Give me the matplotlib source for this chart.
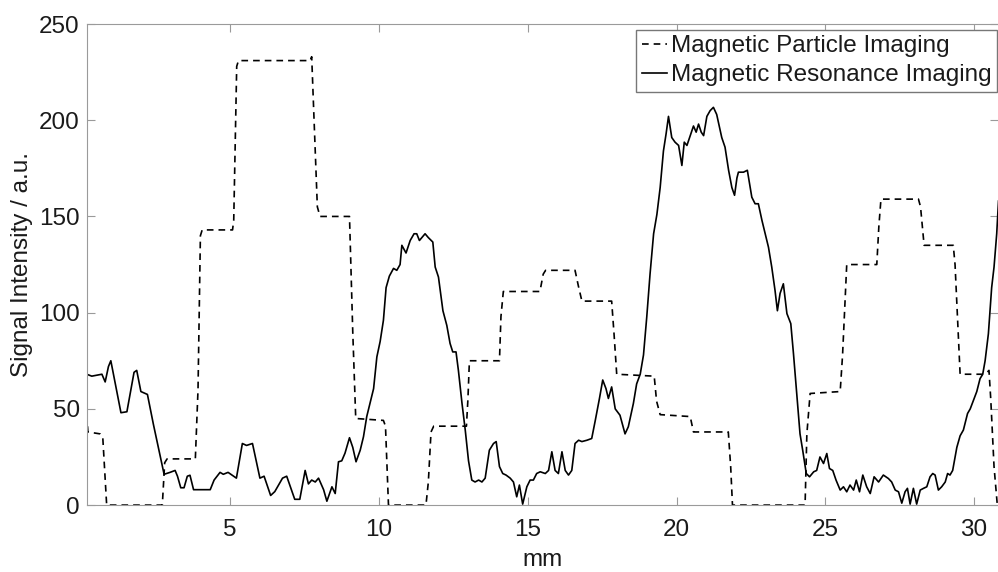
import matplotlib
matplotlib.use("Agg")
import matplotlib.pyplot as plt

# Magnetic Resonance Imaging profile (solid)
mri_x = [0.18, 0.35, 0.69, 0.80, 0.91, 0.99, 1.14, 1.33, 1.53, 1.77, 1.86, 2.00, 2.22, 2.42,
         2.78, 2.98, 3.15, 3.23, 3.34, 3.45, 3.56, 3.65, 3.77, 4.33, 4.46, 4.66, 4.77, 4.93,
         5.21, 5.41, 5.55, 5.75, 6.00, 6.14, 6.36, 6.50, 6.76, 6.90, 7.17, 7.34,
         7.52, 7.63, 7.74, 7.86, 7.97, 8.14, 8.25, 8.42, 8.53, 8.64, 8.75, 8.86, 9.01, 9.12,
         9.23, 9.37, 9.48, 9.59, 9.70, 9.82, 9.93, 10.04, 10.15, 10.24, 10.35, 10.49, 10.60,
         10.71, 10.77, 10.91, 11.05, 11.18, 11.27, 11.36, 11.44, 11.55, 11.66, 11.81, 11.89,
         12.00, 12.15, 12.28, 12.39, 12.48, 12.59, 12.67, 12.79, 12.90, 13.01, 13.12, 13.23,
         13.35, 13.46, 13.57, 13.71, 13.85, 13.94, 14.05, 14.16, 14.27, 14.41, 14.52, 14.63,
         14.72, 14.83, 14.97, 15.08, 15.19, 15.30,
         15.42, 15.59, 15.70, 15.81, 15.92, 16.03, 16.15, 16.26, 16.37, 16.48, 16.59, 16.71,
         16.82, 16.99, 17.15, 17.27, 17.41, 17.52, 17.63, 17.71, 17.82, 17.94, 18.10, 18.27,
         18.38, 18.55, 18.66, 18.78, 18.89, 19.00, 19.11, 19.23, 19.34, 19.45, 19.56, 19.65,
         19.73, 19.84, 19.95, 20.07, 20.18, 20.26, 20.35, 20.46, 20.57, 20.66, 20.74, 20.83,
         20.91, 21.02, 21.13, 21.24, 21.35, 21.52, 21.63, 21.75, 21.86, 21.95, 22.03, 22.08,
         22.25, 22.38, 22.53, 22.64, 22.75, 22.87, 22.98, 23.09, 23.20, 23.31,
         23.39, 23.48, 23.59, 23.71, 23.84, 23.93, 24.04, 24.15, 24.24, 24.36, 24.47, 24.61,
         24.71, 24.82, 24.94, 25.05, 25.14, 25.25, 25.36, 25.50, 25.61, 25.72, 25.83, 25.95,
         26.04, 26.15, 26.26, 26.39, 26.51, 26.64, 26.79, 26.95, 27.12, 27.23, 27.35, 27.46,
         27.57, 27.68, 27.76, 27.85, 27.96, 28.07, 28.19, 28.30, 28.41, 28.52, 28.61, 28.69,
         28.80, 28.91, 29.03, 29.11, 29.19, 29.28, 29.42, 29.53, 29.64, 29.78, 29.87, 29.98,
         30.09, 30.20, 30.29, 30.37, 30.48, 30.59, 30.67, 30.76, 30.82]
mri_y = [68, 67, 68, 64, 72, 75, 63, 48, 48.5, 69, 70, 59, 57.5, 42,
         16, 17, 18, 15, 9, 9, 15, 15.5, 8, 8, 13, 17, 16, 17,
         14, 32, 31, 32, 14, 15, 5, 7, 14, 15, 3, 3,
         18, 11, 13, 12, 14, 8, 2, 9.5, 6, 22.5, 23, 27, 35, 30,
         22.5, 28.5, 35.5, 46, 53, 60.5, 77, 85, 96, 113, 119, 123, 122,
         125, 135, 131, 137.5, 141, 141, 137.5, 139, 141, 139, 136.7, 123.7,
         118.5, 101, 93.4, 84, 79.6, 79.6, 70, 53, 39, 23, 13, 12,
         13, 12, 14, 28.5, 32, 33, 20, 16.4, 15.6, 14, 12, 4.3,
         10.4, 0.5, 9.5, 13, 13, 16.4,
         17.3, 16.4, 18, 27.7, 18, 16.4, 27.7, 18, 15.6, 18, 32, 33.7,
         33, 33.7, 34.6, 44, 55.4, 65, 60.5, 55.4, 61.4, 50, 46.7, 37,
         40.7, 52.8, 63, 68, 78, 97.8, 120, 141, 151, 165, 184, 193,
         202, 191, 188.6, 186.9, 176.5, 188.6, 186.9, 192, 197, 193.8, 198, 193.8,
         192, 202, 205, 206.7, 203, 191, 186, 174, 165, 161, 170, 173,
         173, 174, 160, 156.6, 156.6, 148, 141, 134, 123.7, 111.6,
         101, 110, 115, 99.5, 94.3, 78.7, 58, 37, 28.5, 16.4, 14.7, 17.3,
         18, 25, 21.6, 26.8, 19, 18, 13, 7.8, 9.5, 6.9, 10.4, 7.8,
         13, 6.9, 15.6, 9.5, 6, 14.7, 12, 15.6, 13.8, 12, 7.8, 6.9,
         1, 6.9, 8.7, 0.5, 8.7, 0.5, 7.8, 8.7, 9.5, 14.7, 16.4, 15.6,
         7.8, 9.5, 12, 16.4, 15.6, 18, 30, 36, 39, 47.6, 50, 54.5,
         59, 65.7, 68, 75, 89, 113, 123.7, 141, 158]

# Magnetic Particle Imaging profile (dashed, stepwise)
mpi_x = [0.18, 0.22, 0.63, 0.72, 0.85, 2.72, 2.80, 2.88, 3.83, 3.92, 4.00, 4.06, 5.08, 5.12,
         5.22, 5.28, 7.69, 7.74, 7.82, 7.93, 8.02, 9.01, 9.12, 9.22, 10.15, 10.22, 10.32,
         11.58, 11.66, 11.75, 11.84, 12.94, 12.99, 13.04, 14.05, 14.10, 14.18, 15.41, 15.52,
         15.60, 16.59, 16.70, 16.82, 17.82, 17.90, 17.99, 19.25, 19.33, 19.45, 20.46, 20.57,
         21.74, 21.82, 21.88, 24.32, 24.38, 24.49, 25.50, 25.58, 25.72, 26.73, 26.80, 26.87,
         28.13, 28.20, 28.32, 29.30, 29.36, 29.53, 30.31, 30.44, 30.50, 30.56, 30.67, 30.78]
mpi_y = [47, 38, 37, 35, 0, 0, 22, 24, 24, 60, 140, 143, 143, 148,
         228, 231, 231, 233, 200, 155, 150, 150, 90, 45, 44, 41, 0,
         0, 12, 38, 41, 41, 55, 75, 75, 98, 111, 111, 120,
         122, 122, 114, 106, 106, 89, 68, 67, 54, 47, 46, 38,
         38, 20, 0, 0, 37, 58, 59, 78, 125, 125, 145, 159,
         159, 155, 135, 135, 125, 68, 68, 69, 70, 55, 20, 0]

labels = ["Magnetic Particle Imaging", "Magnetic Resonance Imaging"]
x_ticks = [5, 10, 15, 20, 25, 30]
y_ticks = [0, 50, 100, 150, 200, 250]

plt.rcParams['font.family'] = ['Liberation Sans', 'DejaVu Sans']
text_color = '#1a1a1a'
axis_color = '#9a9a9a'
fs = 17.5

fig = plt.figure(figsize=(9.98, 5.72), dpi=100)
ax = fig.add_axes([0.0869, 0.117, 0.9136, 0.841])

ax.plot(mpi_x, mpi_y, color='black', lw=1.2, linestyle=(0, (4, 3)), label=labels[0])
ax.plot(mri_x, mri_y, color='black', lw=1.2, label=labels[1])

ax.set_xlim(0.18, 30.82)
ax.set_ylim(0, 250)
ax.set_xticks(x_ticks)
ax.set_yticks(y_ticks)
ax.tick_params(direction='in', length=6, width=0.8, color=axis_color,
               labelcolor=text_color, labelsize=fs, top=True, right=True)
ax.tick_params(axis='x', pad=10)
ax.tick_params(axis='y', pad=5)
for sp in ax.spines.values():
    sp.set_color(axis_color)
    sp.set_linewidth(0.8)
ax.spines['right'].set_visible(False)

# label positions in axes coordinates (MATLAB-like placement)
ax.set_xlabel('mm', fontsize=fs, color=text_color, va='baseline')
ax.xaxis.set_label_coords(0.5, -0.127)
ax.set_ylabel('Signal Intensity / a.u.', fontsize=fs, color=text_color)
ax.yaxis.set_label_coords(-0.059, 0.5)

leg = ax.legend(loc='upper right', bbox_to_anchor=(0.9987, 0.9476), bbox_transform=fig.transFigure,
                fontsize=fs, frameon=True, fancybox=False, edgecolor='#777777', framealpha=1,
                borderpad=0.22, borderaxespad=0, handlelength=1.05, handletextpad=0.15,
                labelspacing=0.28)
leg.get_frame().set_linewidth(1.0)
for t in leg.get_texts():
    t.set_color(text_color)

fig.savefig('out.png', dpi=100)
